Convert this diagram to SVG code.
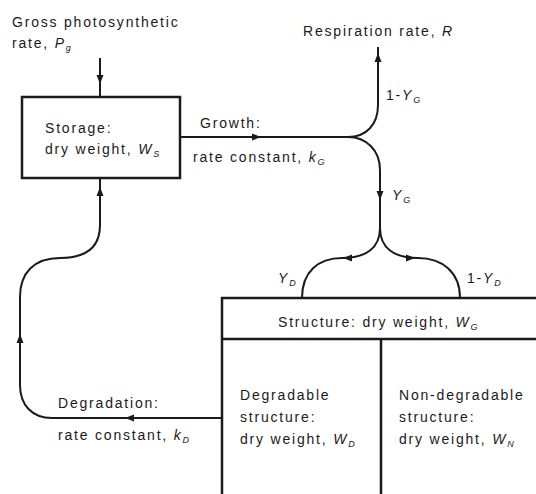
<svg xmlns="http://www.w3.org/2000/svg" width="536" height="494" viewBox="0 0 536 494">
<style>
text{font-family:"Liberation Sans",Arial,sans-serif;font-size:14px;letter-spacing:1.8px;fill:#1a1a1a}
.v{font-style:italic}
.s{font-style:italic;font-size:9px;letter-spacing:0}
.box{fill:none;stroke:#1a1a1a;stroke-width:2.5}
.ln{fill:none;stroke:#1a1a1a;stroke-width:2}
.ah{fill:#1a1a1a}
</style>
<defs>
<path id="ah" d="M4,0 L-5,-3.5 L-5,3.5 Z"/>
</defs>
<rect width="536" height="494" fill="#fff"/>
<g id="connectors">
<path class="ln" d="M100,58 V97"/>
<path class="ln" d="M180,137 H348"/>
<path class="ln" d="M348,137 C366,137 378,125 378,105 V47"/>
<path class="ln" d="M348,137 C366,137 380,150 380,170 V230"/>
<path class="ln" d="M380,228 C380,248 366,258 342,258 C318,258 302,272 302,298"/>
<path class="ln" d="M380,228 C380,248 394,258 418,258 C442,258 460,272 460,298"/>
<path class="ln" d="M222,418 H52 C32,418 20,405 20,385 V297 C20,273 34,258 60,258 C85,258 100,248 100,225 V179"/>
<use href="#ah" class="ah" transform="translate(100,80) rotate(90)"/>
<use href="#ah" class="ah" transform="translate(100,191) rotate(-90)"/>
<use href="#ah" class="ah" transform="translate(257,137)"/>
<use href="#ah" class="ah" transform="translate(378,57) rotate(-90)"/>
<use href="#ah" class="ah" transform="translate(380,196) rotate(90)"/>
<use href="#ah" class="ah" transform="translate(347,258) rotate(180)"/>
<use href="#ah" class="ah" transform="translate(411,258)"/>
<use href="#ah" class="ah" transform="translate(20,338) rotate(-90)"/>
<use href="#ah" class="ah" transform="translate(129,418) rotate(180)"/>
</g>
<g id="input-label">
<text x="12" y="27">Gross photosynthetic</text>
<text x="12" y="48">rate, <tspan class="v">P</tspan><tspan class="s" dy="3">g</tspan></text>
</g>
<g id="storage">
<rect class="box" x="22" y="97" width="158" height="81"/>
<text x="45" y="133">Storage:</text>
<text x="45" y="154">dry weight, <tspan class="v">W</tspan><tspan class="s" dy="3">S</tspan></text>
</g>
<g id="growth-label">
<text x="200" y="128">Growth:</text>
<text x="193" y="162">rate constant, <tspan class="v">k</tspan><tspan class="s" dy="3">G</tspan></text>
</g>
<g id="respiration">
<text x="303" y="36">Respiration rate, <tspan class="v">R</tspan></text>
<text x="386" y="100">1-<tspan class="v">Y</tspan><tspan class="s" dy="3">G</tspan></text>
<text x="392" y="200"><tspan class="v">Y</tspan><tspan class="s" dy="3">G</tspan></text>
</g>
<g id="split-labels">
<text x="278" y="283"><tspan class="v">Y</tspan><tspan class="s" dy="3">D</tspan></text>
<text x="467" y="283">1-<tspan class="v">Y</tspan><tspan class="s" dy="3">D</tspan></text>
</g>
<g id="structure">
<path class="box" d="M536,298 H222 V494 M222,339 H536 M381,339 V494"/>
<text x="278" y="327">Structure: dry weight, <tspan class="v">W</tspan><tspan class="s" dy="3">G</tspan></text>
</g>
<g id="degradable">
<text x="240" y="400">Degradable</text>
<text x="240" y="422">structure:</text>
<text x="240" y="444">dry weight, <tspan class="v">W</tspan><tspan class="s" dy="3">D</tspan></text>
</g>
<g id="non-degradable">
<text x="399" y="400">Non-degradable</text>
<text x="399" y="422">structure:</text>
<text x="399" y="444">dry weight, <tspan class="v">W</tspan><tspan class="s" dy="3">N</tspan></text>
</g>
<g id="degradation-label">
<text x="58" y="408">Degradation:</text>
<text x="58" y="440">rate constant, <tspan class="v">k</tspan><tspan class="s" dy="3">D</tspan></text>
</g>
</svg>
